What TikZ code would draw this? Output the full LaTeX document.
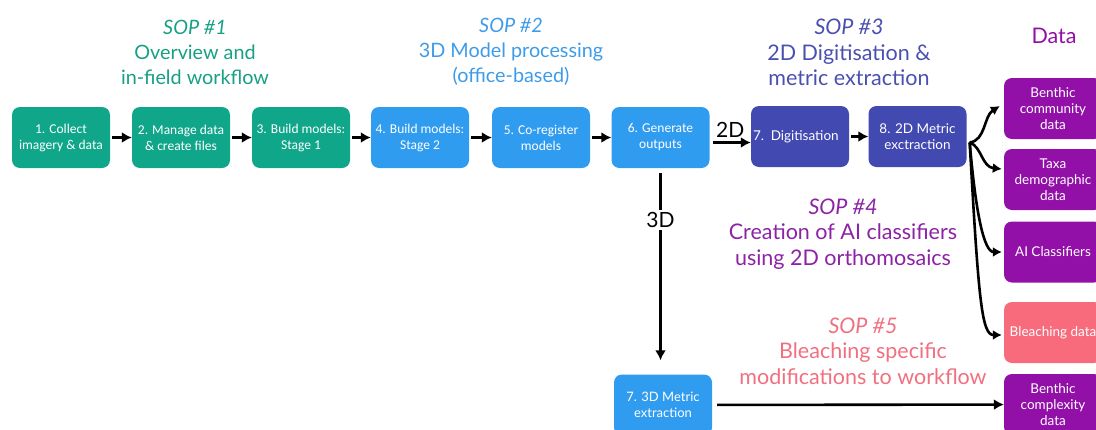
\documentclass[tikz,border=0pt]{standalone}
\usepackage{fontspec}
\setmainfont{Lato}
\newfontfamily\boxfont{Carlito}
\usetikzlibrary{arrows.meta,calc}
\definecolor{cgreen}{HTML}{10A68A}
\definecolor{tgreen}{HTML}{17A083}
\definecolor{cblue}{HTML}{309CF0}
\definecolor{tblue}{HTML}{3D9BE9}
\definecolor{cindigo}{HTML}{4249B0}
\definecolor{tindigo}{HTML}{4A50B0}
\definecolor{cpurple}{HTML}{9210A8}
\definecolor{tpurple}{HTML}{8C22A6}
\definecolor{cpink}{HTML}{F76B7C}
\definecolor{tpink}{HTML}{F07080}
\tikzset{
  bx/.style={rounded corners=8pt, minimum width=98pt, minimum height=61pt, inner sep=1pt, align=center, text=white, font=\boxfont\fontsize{13.5}{16}\selectfont},
  gbox/.style={bx, fill=cgreen},
  bbox/.style={bx, fill=cblue},
  ibox/.style={bx, fill=cindigo, font=\fontsize{13.5}{16}\selectfont},
  pbox/.style={bx, fill=cpurple, font=\fontsize{13.5}{16}\selectfont},
  kbox/.style={bx, fill=cpink, font=\fontsize{13.5}{16}\selectfont},
  arr/.style={line width=3pt, -{Latex[length=10pt,width=11pt]}},
  carr/.style={line width=2.6pt, -{Latex[length=9pt,width=10pt]}},
  head/.style={align=center, font=\fontsize{19.8}{25}\selectfont},
  headb/.style={align=center, font=\fontsize{21.5}{25.5}\selectfont},
}
\begin{document}
\begin{tikzpicture}[x=1pt,y=-1pt]
\useasboundingbox (0,0) rectangle (1096,429);
\clip (0,0) rectangle (1096,429);
% headings
\node[head, text=tgreen] (h1) at (195,52) {\textit{SOP \#1}\\Overview and\\in-field workflow};
\node[head, text=tblue] (h2) at (511,52) {\textit{SOP \#2}\\3D Model processing\\(office-based)};
\node[headb, text=tindigo] (h3) at (849,52.5) {\textit{SOP \#3}\\2D Digitisation \&\\metric extraction};
\node[headb, text=cpurple] (h0) at (1054,36) {Data};
\node[headb, text=tpurple] (h4) at (843,234) {\textit{SOP \#4}\\Creation of AI classifiers\\using 2D orthomosaics};
\node[headb, text=tpink] (h5) at (863,351) {\textit{SOP \#5}\\Bleaching specific\\modifications to workflow};
% process boxes
\node[gbox] (b1) at (61,137.5) {1. Collect\\imagery \& data};
\node[gbox] (b2) at (181,137.5) {2. Manage data\\\& create files};
\node[gbox] (b3) at (301,137.5) {3. Build models:\\Stage 1};
\node[bbox] (b4) at (420,137.5) {4. Build models:\\Stage 2};
\node[bbox] (b5) at (541,137.5) {5. Co-register\\models};
\node[bbox] (b6) at (660.5,137.5) {6. Generate\\outputs};
\node[ibox, text width=94pt, align=left] (b7) at (800,136.5) {7. Digitisation};
\node[ibox] (b8) at (917.5,136.5) {8. 2D Metric\\exctraction};
\node[bbox, font=\fontsize{13}{16}\selectfont] (m3) at (663,405) {7. 3D Metric\\extraction};
% data boxes
\node[pbox] (d1) at (1053,108.5) {Benthic\\community\\data};
\node[pbox] (d2) at (1053,179.5) {Taxa\\demographic\\data};
\node[pbox] (d3) at (1053,252) {AI Classifiers};
\node[kbox] (d4) at (1053,332.5) {Bleaching data};
\node[pbox] (d5) at (1053,404.5) {Benthic\\complexity\\data};
% arrows
\draw[arr, shorten <=2pt] (b1) -- (b2);
\draw[arr, shorten <=2pt] (b2) -- (b3);
\draw[arr, shorten <=2pt] (b3) -- (b4);
\draw[arr, shorten <=2pt] (b4) -- (b5);
\draw[arr, shorten <=2pt] (b5) -- (b6);
\draw[arr, shorten <=2pt] (b7) -- (b8);
\draw[arr, shorten <=3pt] ([yshift=-5pt]b6.east) -- ([yshift=-5pt]b6.east -| b7.west)
  node[midway, above=0pt, font=\fontsize{21}{22}\selectfont] (l2d) {2D};
\coordinate (m3in) at ([yshift=14pt]m3.north -| b6.south);
\draw[arr, line width=2.6pt, shorten <=5pt] (b6.south) -- (m3in)
  node[pos=0.27, fill=white, inner sep=2pt, font=\fontsize{21}{22}\selectfont] (l3d) {3D};
\draw[arr, line width=2.6pt, shorten <=5pt] (m3) -- (d5);
% branching connectors
\coordinate (j) at ([xshift=3pt,yshift=-6pt]b8.east);
\draw[carr] (j) .. controls +(16,-2) and +(-16,10) .. ([xshift=-4pt,yshift=2pt]d1.west |- 0,108);
\draw[carr] (j) .. controls +(12,4) and +(-20,-2) .. ([xshift=-2pt]d2.west |- 0,169);
\draw[carr] (j) .. controls +(6,70) and +(-18,0) .. ([xshift=-2pt]d3.west |- 0,252);
\draw[carr] (j) .. controls +(9,160) and +(-20,0) .. ([xshift=-2pt]d4.west |- 0,335);
\end{tikzpicture}
\end{document}
